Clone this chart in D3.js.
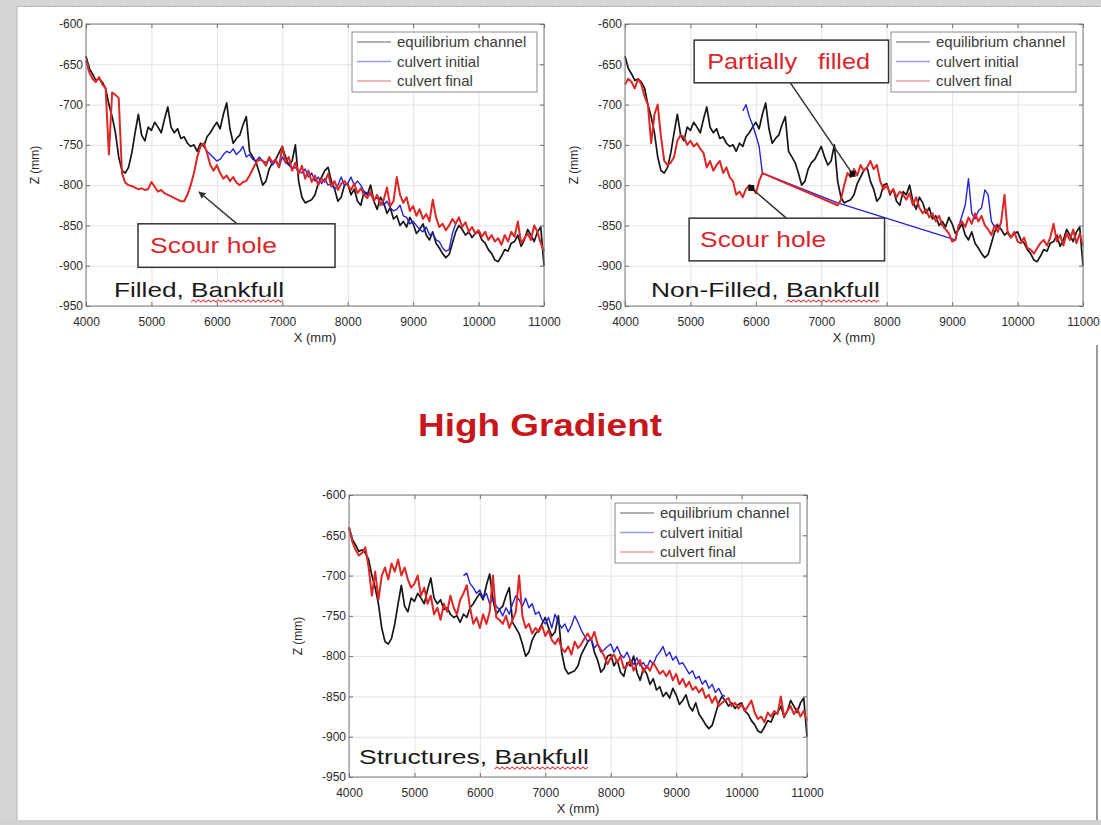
<!DOCTYPE html>
<html>
<head>
<meta charset="utf-8">
<title>High Gradient</title>
<script src="https://cdn.jsdelivr.net/npm/d3@7"></script>
<style>
  html, body { margin: 0; padding: 0; background: #fff; }
  svg { display: block; font-family: "Liberation Sans", Arial, sans-serif; }
</style>
</head>
<body>
<div id="app"></div>
<script>
const _ = null

const xTicks = [4000, 5000, 6000, 7000, 8000, 9000, 10000, 11000]
const zTicks = [-600, -650, -700, -750, -800, -850, -900, -950]
// survey stations along the flume, X (mm)
const stations = d3.range(4000, 11001, 50)
const seriesNames = ['equilibrium channel', 'culvert initial', 'culvert final']

// bed elevation Z (mm) at each station, one row per 500 mm
const equilibrium = [
  -640, -655, -662, -670, -668, -672, -680, -700, -715, -735,
  -765, -782, -785, -778, -760, -735, -712, -738, -745, -728,
  -732, -722, -728, -735, -718, -703, -728, -735, -730, -742,
  -740, -748, -752, -750, -758, -748, -752, -740, -735, -728,
  -722, -730, -712, -698, -730, -748, -742, -738, -725, -715,
  -758, -765, -772, -785, -800, -795, -780, -772, -768, -760,
  -752, -765, -775, -770, -750, -795, -815, -822, -820, -818,
  -812, -798, -790, -782, -778, -795, -805, -820, -815, -800,
  -798, -812, -805, -820, -825, -808, -812, -800, -820, -830,
  -815, -822, -835, -828, -842, -838, -850, -845, -852, -840,
  -848, -860, -855, -848, -862, -868, -858, -872, -878, -885,
  -890, -886, -872, -858, -850, -855, -862, -858, -865, -860,
  -858, -868, -872, -880, -885, -893, -895, -888, -880, -882,
  -872, -870, -862, -876, -868, -855, -862, -870, -858, -852,
  -900
]

const filledInitial = [
  _, _, _, _, _, _, _, _, _, _,
  _, _, _, _, _, _, _, _, _, _,
  _, _, _, _, _, _, _, _, _, _,
  _, _, _, _, _, _, -752, -758, -762, -766,
  -770, -768, -762, -758, -760, -755, -762, -758, -752, -765,
  -762, -768, -770, -765, -770, -772, -768, -775, -770, -778,
  -765, -772, -775, -780, -778, -782, -785, -780, -790, -785,
  -795, -790, -798, -792, -800, -798, -805, -800, -790, -800,
  -798, -790, -800, -795, -800, -808, -810, -812, -818, -815,
  -822, -825, -820, -828, -832, -830, -825, -838, -840, -848,
  -845, -850, -855, -858, -852, -862, -860, -868, -870, -878,
  -882, -880, -860, -848, _, _, _, _, _, _,
  _, _, _, _, _, _, _, _, _, _,
  _, _, _, _, _, _, _, _, _, _,
  _
]

const filledFinal = [
  -645, -660, -668, -672, -666, -675, -680, -762, -685, -688,
  -692, -785, -797, -800, -801, -803, -805, -804, -806, -805,
  -796, -802, -808, -806, -810, -812, -814, -816, -818, -820,
  -820, -812, -800, -785, -765, -752, -748, -760, -775, -782,
  -775, -785, -792, -788, -795, -790, -797, -800, -796, -795,
  -788, -780, -772, -768, -770, -776, -765, -772, -768, -778,
  -752, -772, -765, -782, -772, -786, -776, -792, -782, -796,
  -788, -800, -792, -796, -786, -802, -795, -806, -798, -795,
  -800, -806, -798, -810, -804, -812, -816, -808, -820, -812,
  -825, -818, -803, -826, -820, -790, -812, -822, -815, -832,
  -826, -838, -830, -842, -836, -845, -818, -840, -852, -848,
  -856, -850, -842, -848, -840, -852, -846, -858, -852, -860,
  -856, -864, -858, -868, -862, -870, -866, -874, -862, -870,
  -858, -864, -845, -872, -866, -860, -868, -850, -858, -872,
  -882
]

const nonFilledInitial = [
  _, _, _, _, _, _, _, _, _, _,
  _, _, _, _, _, _, _, _, _, _,
  _, _, _, _, _, _, _, _, _, _,
  _, _, _, _, _, _, -708, -700, -715, -725,
  -738, -752, -785, _, _, _, _, _, _, _,
  _, _, _, _, _, _, _, _, _, _,
  _, _, _, _, _, -822, _, _, _, _,
  _, _, _, _, _, _, _, _, _, _,
  _, _, _, _, _, _, _, _, _, _,
  _, _, _, _, _, _, _, _, _, _,
  _, -868, -852, -838, -825, -792, -835, -842, -832, -828,
  -806, -812, -845, -852, -848, _, _, _, _, _,
  _, _, _, _, _, _, _, _, _, _,
  _, _, _, _, _, _, _, _, _, _,
  _
]

const nonFilledFinal = [
  -675, -668, -672, -680, -668, -675, -690, -700, -748, -712,
  -700, -740, -770, -775, -772, -765, -745, -738, -740, -750,
  -745, -752, -748, -755, -760, -778, -770, -782, -775, -770,
  -785, -778, -790, -795, -812, -808, -815, -805, -800, -802,
  -810, -795, -785, _, _, _, _, _, _, _,
  _, _, _, _, _, _, _, _, _, _,
  _, _, _, _, _, -825, -818, -800, -785, -790,
  -780, -788, -775, -782, -778, -770, -780, -775, -795, -805,
  -800, -810, -805, -815, -808, -812, -818, -810, -825, -815,
  -828, -835, -830, -840, -835, -845, -838, -850, -855, -860,
  -870, -868, -850, -845, -852, -840, -848, -835, -845, -838,
  -850, -855, -862, -850, -858, -845, -812, -860, -865, -858,
  -870, -872, -865, -878, -880, -885, -878, -872, -868, -875,
  -865, -848, -870, -862, -875, -860, -868, -855, -872, -860,
  -875
]

const structuresInitial = [
  _, _, _, _, _, _, _, _, _, _,
  _, _, _, _, _, _, _, _, _, _,
  _, _, _, _, _, _, _, _, _, _,
  _, _, _, _, _, -700, -697, -710, -715, -722,
  -718, -728, -722, -735, -728, -738, -742, -750, -740, -748,
  -735, -725, -730, -738, -728, -740, -735, -748, -745, -755,
  -760, -752, -765, -748, -758, -765, -760, -770, -762, -750,
  -758, -768, -775, -782, -778, -790, -785, -795, -792, -788,
  -785, -795, -788, -798, -802, -795, -805, -810, -802, -812,
  -808, -815, -805, -810, -800, -795, -788, -800, -795, -805,
  -800, -810, -808, -815, -822, -818, -828, -825, -835, -830,
  -840, -835, -845, -840, -848, -850, _, _, _, _,
  _, _, _, _, _, _, _, _, _, _,
  _, _, _, _, _, _, _, _, _, _,
  _
]

const structuresFinal = [
  -640, -658, -668, -675, -672, -665, -690, -725, -695, -730,
  -700, -690, -705, -685, -695, -680, -700, -690, -705, -715,
  -710, -700, -725, -715, -735, -725, -748, -740, -755, -735,
  -745, -725, -740, -748, -730, -722, -712, -740, -760, -752,
  -765, -748, -760, -745, -700, -752, -755, -760, -750, -765,
  -755, -745, -700, -750, -765, -760, -772, -765, -770, -762,
  -775, -768, -780, -785, -778, -790, -795, -788, -798, -782,
  -790, -785, -778, -772, -780, -770, -785, -792, -800, -810,
  -802, -798, -808, -800, -815, -812, -805, -818, -810, -805,
  -820, -812, -818, -808, -815, -822, -818, -825, -818, -830,
  -822, -835, -828, -838, -832, -842, -838, -845, -840, -852,
  -848, -858, -850, -862, -858, -855, -852, -862, -858, -865,
  -860, -868, -862, -855, -870, -878, -875, -882, -870, -875,
  -868, -872, -850, -875, -868, -862, -872, -865, -875, -868,
  -880
]

const seriesColors = ['#161616', '#2424d6', '#de2626']
const seriesWidths = [1.7, 1.4, 2]

const W = 458, H = 282

// annotation boxes and pointer tips are in data units (X mm, Z mm)
const panels = [
  {
    left: 86, top: 24, initial: filledInitial, final: filledFinal,
    label: 'Filled, Bankfull', labelX: 28, labelY: 273, labelW: 170,
    notes: [
      { text: 'Scour hole', box: [4795, -848, 7806, -902], textW: 127, padX: 12,
        tail: [6308, -848], tip: [5727, -808.5], head: 'arrow' }
    ]
  },
  {
    left: 625, top: 24, initial: nonFilledInitial, final: nonFilledFinal,
    label: 'Non-Filled, Bankfull', labelX: 26, labelY: 273, labelW: 229,
    notes: [
      { text: 'Partially   filled', box: [5057, -620, 8028, -673], textW: 163, padX: 13,
        tail: [6527, -673], tip: [7477, -786], head: 'dot' },
      { text: 'Scour hole', box: [4980, -841, 7967, -894], textW: 126, padX: 11,
        tail: [6466, -841], tip: [5930, -803.5], head: 'dot' }
    ]
  },
  {
    left: 349, top: 495, initial: structuresInitial, final: structuresFinal,
    label: 'Structures, Bankfull', labelX: 10, labelY: 269, labelW: 230,
    notes: []
  }
]

const svg = d3.select('#app').append('svg').attr('width', 1101).attr('height', 825)

svg.append('defs').append('marker')
  .attr('id', 'arrow').attr('viewBox', '0 0 10 10')
  .attr('refX', 9).attr('refY', 5)
  .attr('markerWidth', 7).attr('markerHeight', 7)
  .attr('markerUnits', 'userSpaceOnUse')
  .attr('orient', 'auto')
  .append('path').attr('d', 'M0,0L10,5L0,10z').attr('fill', '#333')

drawFrame()

stretchedText(svg, 'High Gradient', 540 - 122, 436, 244,
  { 'font-size': 31, 'font-weight': 'bold', fill: '#c8171c' })

panels.forEach(drawPanel)

function drawFrame() {
  svg.append('rect').attr('width', 1101).attr('height', 825).attr('fill', '#fff')
  svg.append('rect').attr('width', 1101).attr('height', 7).attr('fill', '#d6d6d6')
  svg.append('line').attr('x1', 18).attr('x2', 1101).attr('y1', 6.5).attr('y2', 6.5)
    .attr('stroke', '#a9a9a9').attr('stroke-dasharray', '2,1')
  svg.append('rect').attr('width', 17).attr('height', 825).attr('fill', '#d4d4d4')
  svg.append('line').attr('x1', 17).attr('x2', 17).attr('y1', 6).attr('y2', 825)
    .attr('stroke', '#b8b8b8')
  svg.append('line').attr('x1', 1097).attr('x2', 1097).attr('y1', 345).attr('y2', 825)
    .attr('stroke', '#9c9c9c').attr('stroke-width', 2)
  svg.append('rect').attr('y', 820).attr('width', 1101).attr('height', 5).attr('fill', '#d2d2d2')
}

function stretchedText(parent, str, x, y, width, attrs) {
  const g = parent.append('g').attr('transform', `translate(${x},${y})`)
  const inner = g.append('g')
  const t = inner.append('text').style('white-space', 'pre').text(str)
  Object.entries(attrs).forEach(([k, v]) => t.attr(k, v))
  const natural = t.node().getComputedTextLength()
  inner.attr('transform', `scale(${width / natural},1)`)
  return { inner, text: t }
}

function styleAxis(sel, withText) {
  sel.select('.domain').remove()
  sel.selectAll('line').attr('stroke', '#6f6f6f')
  sel.attr('font-family', null).attr('font-size', 12)
  if (withText) sel.selectAll('text').attr('fill', '#2a2a2a')
  else sel.selectAll('text').remove()
}

function drawPanel(p) {
  const x = d3.scaleLinear().domain([4000, 11000]).range([0, W])
  const y = d3.scaleLinear().domain([-950, -600]).range([H, 0])
  const g = svg.append('g').attr('transform', `translate(${p.left},${p.top})`)

  // grid
  const gx = g.append('g').call(d3.axisBottom(x).tickValues(xTicks).tickSize(H).tickFormat(''))
  const gy = g.append('g').call(d3.axisRight(y).tickValues(zTicks).tickSize(W).tickFormat(''))
  ;[gx, gy].forEach(s => {
    s.select('.domain').remove()
    s.selectAll('line').attr('stroke', '#e3e3e3')
  })

  // profiles
  const line = d3.line().x(d => x(d[0])).y(d => y(d[1]))
  const series = [equilibrium, p.initial, p.final]
  g.append('g').selectAll('path').data(series).join('path')
    .attr('fill', 'none')
    .attr('stroke', (d, i) => seriesColors[i])
    .attr('stroke-width', (d, i) => seriesWidths[i])
    .attr('stroke-linejoin', 'round')
    .attr('d', d => line(stations.map((s, k) => [s, d[k]]).filter(v => v[1] != null)))

  g.append('rect').attr('width', W).attr('height', H)
    .attr('fill', 'none').attr('stroke', '#7c7c7c')

  // axes, ticks inside the box
  g.append('g').attr('transform', `translate(0,${H})`)
    .call(d3.axisBottom(x).tickValues(xTicks).tickSizeInner(-4).tickSizeOuter(0).tickPadding(11).tickFormat(d => d))
    .call(s => styleAxis(s, true))
  g.append('g')
    .call(d3.axisLeft(y).tickValues(zTicks).tickSizeInner(-4).tickSizeOuter(0).tickPadding(3).tickFormat(d => d))
    .call(s => styleAxis(s, true))
  g.append('g')
    .call(d3.axisTop(x).tickValues(xTicks).tickSizeInner(-4).tickSizeOuter(0))
    .call(s => styleAxis(s, false))
  g.append('g').attr('transform', `translate(${W},0)`)
    .call(d3.axisRight(y).tickValues(zTicks).tickSizeInner(-4).tickSizeOuter(0))
    .call(s => styleAxis(s, false))

  g.append('text').attr('x', W / 2).attr('y', H + 36)
    .attr('text-anchor', 'middle').attr('font-size', 13).attr('fill', '#2a2a2a')
    .text('X (mm)')
  g.append('text').attr('transform', `translate(-47,${H / 2}) rotate(-90)`)
    .attr('text-anchor', 'middle').attr('font-size', 12).attr('fill', '#2a2a2a')
    .text('Z (mm)')

  // legend
  const lg = g.append('g').attr('transform', `translate(${W - 7 - 185},8)`)
  lg.append('rect').attr('width', 185).attr('height', 60)
    .attr('fill', '#fff').attr('stroke', '#8a8a8a')
  const rows = lg.selectAll('g').data(seriesNames).join('g')
    .attr('transform', (d, i) => `translate(0,${10 + i * 19.5})`)
  rows.append('line').attr('x1', 5).attr('x2', 39)
    .attr('stroke', (d, i) => seriesColors[i]).attr('stroke-opacity', 0.45).attr('stroke-width', 1.5)
  rows.append('text').attr('x', 45).attr('dy', '0.35em')
    .attr('font-size', 15).attr('fill', '#3a3a3a').text(d => d)

  // annotations
  p.notes.forEach(n => {
    const bx = x(n.box[0]), by = y(n.box[1])
    const bw = x(n.box[2]) - bx, bh = y(n.box[3]) - by
    const ln = g.append('line')
      .attr('x1', x(n.tail[0])).attr('y1', y(n.tail[1]))
      .attr('x2', x(n.tip[0])).attr('y2', y(n.tip[1]))
      .attr('stroke', '#333').attr('stroke-width', 1.5)
    if (n.head === 'arrow') ln.attr('marker-end', 'url(#arrow)')
    else g.append('rect').attr('x', x(n.tip[0]) - 3).attr('y', y(n.tip[1]) - 3)
      .attr('width', 6).attr('height', 6).attr('fill', '#111')
    g.append('rect').attr('x', bx).attr('y', by).attr('width', bw).attr('height', bh)
      .attr('fill', '#fff').attr('stroke', '#333').attr('stroke-width', 1.5)
    stretchedText(g, n.text, bx + n.padX, by + bh - 14, n.textW,
      { 'font-size': 22, fill: '#d9262b' })
  })

  // panel caption with spell-check squiggle under "Bankfull"
  const cap = stretchedText(g, p.label, p.labelX, p.labelY, p.labelW,
    { 'font-size': 21, fill: '#1a1a1a' })
  const node = cap.text.node()
  const idx = p.label.indexOf('Bankfull')
  const x0 = node.getSubStringLength(0, idx)
  const len = node.getSubStringLength(idx, 8)
  const pts = d3.range(0, Math.floor(len / 2) + 1).map(k => [x0 + k * 2, k % 2 ? 3 : 5])
  cap.inner.append('path').attr('d', d3.line()(pts))
    .attr('fill', 'none').attr('stroke', '#e04848').attr('stroke-width', 1)
}
</script>
</body>
</html>
